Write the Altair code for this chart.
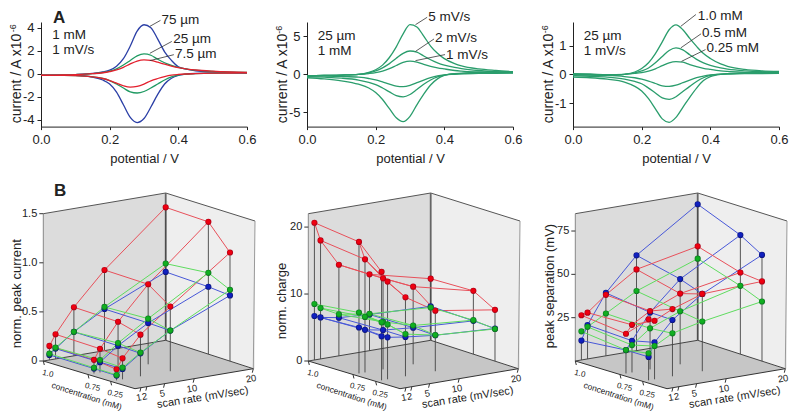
import altair as alt
import pandas as pd

FONT = "Liberation Sans"
BLUE, GREEN, RED, TEAL = "#2b3fa6", "#1f9a62", "#e3202e", "#2a9d6c"

V_UP = [0, .05, .1, .15, .18, .2, .22, .24, .26, .28, .3, .32, .34, .36, .38, .4, .43, .45, .5, .55, .6]
V_DN = [0, .05, .1, .15, .18, .2, .22, .24, .26, .28, .3, .32, .34, .36, .38, .4, .42, .45, .5, .55, .6]

A1_BLUE_UP = [-.15, -.13, -.08, .02, .15, .3, .65, 1.3, 2.4, 3.7, 4.25, 4.0, 3.0, 1.9, 1.15, .6, .35, .25, .15, .1, .08]
A1_BLUE_DN = [-.13, -.13, -.15, -.3, -.55, -.9, -1.6, -2.7, -3.8, -4.25, -3.9, -2.9, -1.8, -.9, -.4, -.15, -.05, .02, .05, .07, .08]
A1_GREEN_UP = [-.15, -.12, -.08, 0, .1, .22, .42, .75, 1.15, 1.55, 1.72, 1.6, 1.25, .95, .72, .55, .38, .3, .2, .14, .1]
A1_GREEN_DN = [-.13, -.15, -.17, -.27, -.42, -.6, -.9, -1.25, -1.58, -1.68, -1.55, -1.25, -.9, -.55, -.28, -.12, -.05, 0, .05, .07, .08]
A1_RED_UP = [-.15, -.12, -.08, 0, .08, .18, .32, .55, .85, 1.1, 1.2, 1.15, 1.0, .82, .66, .52, .38, .32, .22, .15, .1]
A1_RED_DN = [-.13, -.15, -.17, -.27, -.42, -.6, -.82, -1.05, -1.17, -1.1, -.9, -.62, -.42, -.25, -.13, -.07, -.03, 0, .04, .06, .08]

A2_5_UP = [-.2, -.15, -.1, 0, .25, .6, 1.2, 2.2, 3.6, 5.3, 6.5, 6.2, 5.0, 3.7, 2.75, 2.05, 1.4, 1.1, .7, .5, .35]
A2_5_DN = [-.45, -.6, -.85, -1.3, -1.8, -2.4, -3.3, -4.5, -5.7, -6.2, -5.5, -4.0, -2.6, -1.4, -.6, -.15, .05, .15, .25, .28, .3]
A2_2_UP = [-.2, -.15, -.1, 0, .2, .45, .85, 1.4, 2.1, 2.75, 3.05, 2.9, 2.4, 1.9, 1.5, 1.2, .9, .75, .5, .35, .3]
A2_2_DN = [-.3, -.38, -.5, -.75, -1.05, -1.35, -1.8, -2.3, -2.8, -2.95, -2.65, -2.0, -1.3, -.75, -.35, -.1, .02, .1, .2, .22, .25]
A2_1_UP = [-.2, -.15, -.1, -.02, .1, .22, .42, .75, 1.15, 1.55, 1.72, 1.6, 1.3, 1.05, .85, .7, .5, .42, .3, .22, .18]
A2_1_DN = [-.2, -.22, -.27, -.38, -.55, -.72, -1.0, -1.3, -1.55, -1.62, -1.45, -1.1, -.75, -.45, -.22, -.08, 0, .05, .12, .14, .15]

A3_10_UP = [-.03, -.03, -.04, 0, .08, .2, .4, .72, 1.13, 1.55, 1.72, 1.55, 1.25, .97, .72, .55, .36, .28, .17, .12, .1]
A3_10_DN = [-.1, -.12, -.17, -.27, -.42, -.58, -.85, -1.2, -1.55, -1.67, -1.5, -1.15, -.8, -.48, -.22, -.08, -.02, .02, .05, .07, .08]
A3_05_UP = [0, -.01, -.03, 0, .05, .12, .22, .4, .62, .83, .92, .85, .68, .52, .4, .31, .22, .18, .12, .09, .08]
A3_05_DN = [-.05, -.07, -.1, -.17, -.25, -.33, -.48, -.65, -.82, -.87, -.78, -.6, -.42, -.25, -.12, -.04, 0, .02, .04, .05, .06]
A3_025_UP = [.02, .01, -.01, 0, .03, .06, .11, .19, .3, .4, .44, .42, .34, .27, .21, .17, .12, .1, .07, .05, .04]
A3_025_DN = [-.01, -.02, -.04, -.08, -.12, -.17, -.24, -.32, -.4, -.42, -.38, -.29, -.2, -.12, -.06, -.02, 0, .01, .02, .025, .03]

RATES = [1, 2, 5, 10, 20]
CONC_LABELS = ["1.0", "0.75", "0.25"]
CONC_POS = [0, .487, .734]

B1_RED = [[.143, .251, .495, .821, 1.354], [.139, .241, .485, .815, 1.347], [.112, .214, .424, .658, 1.106]]
B1_GREEN = [[.064, .115, .244, .445, .781], [.058, .126, .268, .465, .828], [.054, .119, .241, .414, .726]]
B1_BLUE = [[.051, .105, .244, .424, .696], [.05, .105, .241, .421, .686], [.048, .105, .234, .414, .669]]
B2_RED = [[20.5, 17.7, 13.6, 11.4, 9.2], [19.65, 16.9, 13.6, 11.6, 9.45], [16.2, 14.6, 11.8, 9.05, 7.66]]
B2_GREEN = [[8.36, 7.6, 6.2, 5.5, 4.9], [9.1, 8.3, 7.1, 5.8, 5.07], [8.66, 8.2, 6.3, 5.4, 4.8]]
B2_BLUE = [[6.57, 6.2, 5.7, 5.4, 5.07], [6.87, 6.37, 5.87, 5.47, 4.97], [6.57, 6.27, 5.87, 5.37, 4.88]]
B3_RED = [[25.8, 26.7, 35.2, 46.9, 54.2], [22.9, 27.5, 33.7, 40.8, 47.1], [35.2, 33.8, 38.8, 44.6, 46.0]]
B3_GREEN = [[16.5, 18.5, 24.4, 34.4, 47.1], [13.5, 15.8, 23.7, 30.6, 39.4], [15.6, 19.2, 24.8, 28.7, 34.4]]
B3_BLUE = [[11.2, 19.6, 36.3, 55.0, 78.5], [13.5, 18.3, 32.9, 49.2, 68.7], [13.5, 21.3, 32.5, 44.6, 61.3]]

W, HT, HB = 206, 104.6, 215


def cv_chart(curves, ydom, yticks, ytitle_y, sup, notes, leaders, first_letter=None):
    rows = []
    for name, color, up, dn in curves:
        rows += [dict(v=a, i=b, g=name + "u", c=color) for a, b in zip(V_UP, up)]
        rows += [dict(v=a, i=b, g=name + "d", c=color) for a, b in zip(V_DN, dn)]
    sx = alt.Scale(domain=[0, .6], nice=False, zero=False)
    sy = alt.Scale(domain=ydom, nice=False, zero=False)
    xaxis = alt.Axis(values=[0, .2, .4, .6], format=".1f", title="potential / V", grid=False,
                     labelFont=FONT, titleFont=FONT, labelFontSize=13, titleFontSize=13,
                     titleFontWeight="normal", domainColor="#222", tickColor="#222", tickSize=3,
                     labelColor="#222", titleColor="#222", labelPadding=4, titlePadding=6, labelFlush=False)
    yaxis = alt.Axis(values=yticks, title="current / A x10", grid=False,
                     labelExpr="(datum.value < 0 ? '-' : '') + abs(datum.value)",
                     labelFont=FONT, titleFont=FONT, labelFontSize=13, titleFontSize=14,
                     titleFontWeight="normal", domainColor="#222", tickColor="#222", tickSize=4,
                     labelColor="#222", titleColor="#222", labelPadding=3,
                     titleX=-21, titleY=ytitle_y, titleBaseline="alphabetic", titleAlign="center", titleAngle=270)
    nx = alt.X("v:Q", scale=sx, axis=xaxis)
    ny = alt.Y("i:Q", scale=sy, axis=yaxis)
    line = alt.Chart(pd.DataFrame(rows)).mark_line(strokeWidth=1.3, interpolate="monotone").encode(
        x=nx, y=ny, detail="g:N", color=alt.Color("c:N", scale=None))
    lead_rows = []
    for k, (a, b, c, d) in enumerate(leaders):
        lead_rows += [dict(v=a, i=b, g=k), dict(v=c, i=d, g=k)]
    lead = alt.Chart(pd.DataFrame(lead_rows)).mark_line(strokeWidth=.8, color="#333").encode(x=nx, y=ny, detail="g:N")
    text = alt.Chart(pd.DataFrame(notes, columns=["v", "i", "t"])).mark_text(
        align="left", baseline="middle", font=FONT, fontSize=13.5, color="#222").encode(x=nx, y=ny, text="t:N")
    supt = alt.Chart(pd.DataFrame([dict(v=sup[0], i=sup[1], t="-6")])).mark_text(
        align="center", baseline="alphabetic", font=FONT, fontSize=9, angle=270, color="#222").encode(x=nx, y=ny, text="t:N")
    layers = [line, lead, text, supt]
    if first_letter:
        layers.append(alt.Chart(pd.DataFrame([first_letter], columns=["v", "i", "t"])).mark_text(
            align="left", baseline="middle", font=FONT, fontSize=17, fontWeight="bold", color="#222").encode(x=nx, y=ny, text="t:N"))
    return alt.layer(*layers).properties(width=W, height=HT)


def proj(u, t, h, dx):
    p00, p10, p01, p11 = (2.3, 169), (124.7, 148.3), (94, 196.7), (212.3, 176.7)
    x = (1-u)*(1-t)*p00[0] + u*(1-t)*p10[0] + (1-u)*t*p01[0] + u*t*p11[0]
    y = (1-u)*(1-t)*p00[1] + u*(1-t)*p10[1] + (1-u)*t*p01[1] + u*t*p11[1]
    return x + dx, y - h


def sphere(c0, c1):
    return alt.RadialGradient(gradient="radial", x1=.42, y1=.38, x2=.5, y2=.5, r1=0, r2=.55,
                              stops=[alt.GradientStop(offset=0, color=c0), alt.GradientStop(offset=.55, color=c0),
                                     alt.GradientStop(offset=1, color=c1)])


def box3d(series, zmax, zticks, ztitle, title_pos, dx, letter=False):
    FULL = 147.3
    sx = alt.Scale(domain=[0, W], nice=False, zero=False)
    sy = alt.Scale(domain=[HB, 0], nice=False, zero=False)
    X = alt.X("x:Q", scale=sx, axis=None)
    Y = alt.Y("y:Q", scale=sy, axis=None)
    Y2 = alt.Y2("y2:Q")

    P00, P10, P01, P11 = [proj(u, t, 0, dx) for u, t in ((0, 0), (1, 0), (0, 1), (1, 1))]
    T00, T10 = proj(0, 0, FULL, dx), proj(1, 0, FULL, dx)
    T11 = (214 + dx, 29)

    def lerp(a, b, x):
        return a[1] + (b[1]-a[1])*(x-a[0])/(b[0]-a[0])

    left = pd.DataFrame([dict(x=P00[0], y=T00[1], y2=P00[1]), dict(x=P10[0], y=T10[1], y2=P10[1])])
    right = pd.DataFrame([dict(x=P10[0], y=T10[1], y2=P10[1]), dict(x=T11[0], y=T11[1], y2=P11[1])])
    floor = pd.DataFrame([
        dict(x=P00[0], y=P00[1], y2=P00[1]),
        dict(x=P01[0], y=lerp(P00, P10, P01[0]), y2=P01[1]),
        dict(x=P10[0], y=P10[1], y2=lerp(P01, P11, P10[0])),
        dict(x=P11[0], y=P11[1], y2=P11[1])])
    layers = [
        alt.Chart(left).mark_area(color="#dcdcdc", interpolate="linear").encode(x=X, y=Y, y2=Y2),
        alt.Chart(right).mark_area(color="#eeeeee", interpolate="linear").encode(x=X, y=Y, y2=Y2),
        alt.Chart(floor).mark_area(color="#c6c6c6", interpolate="linear").encode(x=X, y=Y, y2=Y2),
    ]
    edges = [(T00, T10, "#555", 1), (T10, T11, "#555", 1), (T00, P00, "#888", 1), (T11, P11, "#999", 1),
             (P00, P01, "#333", 1), (P01, P11, "#333", 1), (P00, P10, "#444", 1), (P10, P11, "#444", 1),
             (T10, P10, "#666", 1.8)]
    erow = []
    for k, (a, b, c, w) in enumerate(edges):
        erow += [dict(x=a[0], y=a[1], g=k, c=c, w=w), dict(x=b[0], y=b[1], g=k, c=c, w=w)]
    layers.append(alt.Chart(pd.DataFrame(erow)).mark_line().encode(
        x=X, y=Y, detail="g:N", color=alt.Color("c:N", scale=None),
        strokeWidth=alt.StrokeWidth("w:Q", scale=None)))

    stems, lines, ptsets = [], [], []
    for name, c_line, c0, c1, vals in series:
        pts = []
        for ti, row in enumerate(vals):
            for ri, val in enumerate(row):
                x, y = proj(RATES[ri] / 20, CONC_POS[ti], val / zmax * FULL, dx)
                _, base = proj(RATES[ri] / 20, CONC_POS[ti], 0, dx)
                if name == series[0][0]:
                    stems.append(dict(x=x, y=y, y2=base))
                pts.append(dict(x=x, y=y))
                lines.append(dict(x=x, y=y, g=f"{name}t{ti}", o=ri, c=c_line))
                lines.append(dict(x=x, y=y, g=f"{name}r{ri}", o=ti, c=c_line))
        ptsets.append((pd.DataFrame(pts), c0, c1))
    layers.append(alt.Chart(pd.DataFrame(stems)).mark_rule(color="#444", strokeWidth=.9).encode(x=X, y=Y, y2=Y2))
    layers.append(alt.Chart(pd.DataFrame(lines)).mark_line(strokeWidth=1).encode(
        x=X, y=Y, detail="g:N", order="o:Q", color=alt.Color("c:N", scale=None)))
    for df, c0, c1 in ptsets:
        layers.append(alt.Chart(df).mark_circle(size=38, opacity=1, fill=sphere(c0, c1), stroke=None).encode(x=X, y=Y))

    ticks, labels = [], []
    for k, (zv, lab) in enumerate(zticks):
        x, y = proj(0, 0, zv / zmax * FULL, dx)
        ticks += [dict(x=x, y=y, g=f"z{k}"), dict(x=x-4, y=y, g=f"z{k}")]
        labels.append(dict(x=x-6, y=y, t=lab))
    rate_t, conc_t = [], []
    for r in RATES:
        x, y = proj(r/20, 1, 0, dx)
        ticks += [dict(x=x, y=y, g=f"r{r}"), dict(x=x-1, y=y+4, g=f"r{r}")]
        rate_t.append(dict(x=x-2.2, y=y+10, t=str(r)))
    for lab, t in zip(CONC_LABELS, CONC_POS):
        x, y = proj(0, t, 0, dx)
        ticks += [dict(x=x, y=y, g=lab), dict(x=x+1, y=y+4, g=lab)]
        conc_t.append(dict(x=x+4.5, y=y+13, t=lab))
    layers.append(alt.Chart(pd.DataFrame(ticks)).mark_line(color="#333", strokeWidth=1).encode(x=X, y=Y, detail="g:N"))
    layers.append(alt.Chart(pd.DataFrame(labels)).mark_text(align="right", baseline="middle", font=FONT, fontSize=11, color="#222").encode(x=X, y=Y, text="t:N"))
    layers.append(alt.Chart(pd.DataFrame(rate_t)).mark_text(align="center", baseline="middle", font=FONT, fontSize=9.5, angle=350, color="#222").encode(x=X, y=Y, text="t:N"))
    layers.append(alt.Chart(pd.DataFrame(conc_t)).mark_text(align="center", baseline="middle", font=FONT, fontSize=8, angle=12, color="#222").encode(x=X, y=Y, text="t:N"))
    layers.append(alt.Chart(pd.DataFrame([dict(x=45.7+dx, y=204, t="concentration (mM)")])).mark_text(
        align="center", baseline="middle", font=FONT, fontSize=8.5, angle=18, color="#222").encode(x=X, y=Y, text="t:N"))
    layers.append(alt.Chart(pd.DataFrame([dict(x=161.7+dx, y=205.7, t="scan rate (mV/sec)")])).mark_text(
        align="center", baseline="middle", font=FONT, fontSize=11, angle=351, color="#222").encode(x=X, y=Y, text="t:N"))
    layers.append(alt.Chart(pd.DataFrame([dict(x=title_pos[0], y=title_pos[1], t=ztitle)])).mark_text(
        align="center", baseline="middle", font=FONT, fontSize=13, angle=270, color="#222").encode(x=X, y=Y, text="t:N"))
    if letter:
        layers.append(alt.Chart(pd.DataFrame([dict(x=13, y=-1, t="B")])).mark_text(
            align="left", baseline="middle", font=FONT, fontSize=17, fontWeight="bold", color="#222").encode(x=X, y=Y, text="t:N"))
    return alt.layer(*layers).properties(width=W, height=HB)


a1 = cv_chart(
    [("b", BLUE, A1_BLUE_UP, A1_BLUE_DN), ("g", GREEN, A1_GREEN_UP, A1_GREEN_DN), ("r", RED, A1_RED_UP, A1_RED_DN)],
    [-4.6, 4.49], [-4, -2, 0, 2, 4], 56, (-.0714, 3.95),
    [(.351, 4.63, "75 µm"), (.385, 3.0, "25 µm"), (.39, 1.74, "7.5 µm"), (.033, 3.39, "1 mM"), (.033, 2.03, "1 mV/s")],
    [(.317, 4.11, .348, 4.63), (.317, 1.77, .381, 2.8), (.317, 1.13, .387, 1.65)],
    first_letter=(.035, 4.855, "A"))
a2 = cv_chart(
    [("a", TEAL, A2_5_UP, A2_5_DN), ("b", TEAL, A2_2_UP, A2_2_DN), ("c", TEAL, A2_1_UP, A2_1_DN)],
    [-6.85, 6.85], [-5, 0, 5], 56, (-.0714, 5.85),
    [(.353, 7.47, "5 mV/s"), (.373, 4.76, "2 mV/s"), (.405, 2.58, "1 mV/s"), (.031, 4.98, "25 µm"), (.031, 3.0, "1 mM")],
    [(.316, 6.5, .35, 7.47), (.316, 3.0, .37, 4.63), (.316, 1.79, .402, 2.58)])
a3 = cv_chart(
    [("a", TEAL, A3_10_UP, A3_10_DN), ("b", TEAL, A3_05_UP, A3_05_DN), ("c", TEAL, A3_025_UP, A3_025_DN)],
    [-1.82, 1.82], [-1, 0, 1], 56, (-.0714, 1.57),
    [(.363, 2.03, "1.0 mM"), (.376, 1.44, "0.5 mM"), (.389, .92, "0.25 mM"), (.031, 1.33, "25 µm"), (.031, .8, "1 mV/s")],
    [(.314, 1.67, .358, 2.08), (.314, .92, .373, 1.41), (.316, .45, .386, .86)])

DOT_R = ("r", "#e8505a", "#f00010", "#8a0018")
DOT_G = ("g", "#5fdc5f", "#10b020", "#0a5a20")
DOT_B = ("b", "#4858d8", "#1020c0", "#0a1060")


def ser(dot, vals):
    return (dot[0], dot[1], dot[2], dot[3], vals)


b1 = box3d([ser(DOT_R, B1_RED), ser(DOT_B, B1_BLUE), ser(DOT_G, B1_GREEN)], 1.5,
           [(0, "0"), (.5, "0.5"), (1, "1.0"), (1.5, "1.5")], "norm. peak current", (-24, 101.7), 0, letter=True)
b2 = box3d([ser(DOT_R, B2_RED), ser(DOT_B, B2_BLUE), ser(DOT_G, B2_GREEN)], 22,
           [(0, "0"), (10, "10"), (20, "20")], "norm. charge", (-25, 109), -1)
b3 = box3d([ser(DOT_B, B3_BLUE), ser(DOT_R, B3_RED), ser(DOT_G, B3_GREEN)], 85,
           [(25, "25"), (50, "50"), (75, "75")], "peak separation (mV)", (-23, 94), 0)

chart = alt.concat(a1, a2, a3, b1, b2, b3, columns=3, spacing=alt.RowColnumber(row=65, column=60),
                   bounds="flush").configure_view(stroke=None).properties(padding=0, background="white")

chart.save("out.html", embed_options={"renderer": "svg", "actions": False})
